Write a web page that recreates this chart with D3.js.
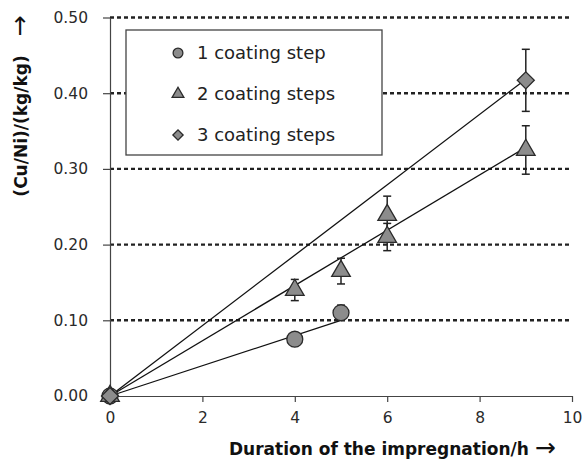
<!DOCTYPE html>
<html lang="en">
	<head>
		<meta charset="utf-8">
		<title>Cu/Ni ratio vs duration of impregnation</title>
		<style type="text/css">
			body { margin: 0; background: #fff; }
			text { font-family: "DejaVu Sans", sans-serif; fill: #222; }
			.axis path, .axis line { stroke: #444; stroke-width: 1.2; }
			.axis text { font-size: 15.5px; fill: #2a2a2a; }
			.grid { stroke: #222; stroke-width: 2.4; stroke-dasharray: 4,3; }
			.fit { stroke: #111; stroke-width: 1.3; fill: none; }
			.err { stroke: #222; stroke-width: 1.5; }
			.mark { fill: #8c8c8c; stroke: #2a2a2a; stroke-width: 1.3; }
			.label { font-weight: bold; font-size: 17px; fill: #111; }
			.arrow { font-family: "DejaVu Sans", sans-serif; font-weight: normal; font-size: 25px; }
		</style>
	</head>
	<body>

		<script src="https://d3js.org/d3.v7.min.js"></script>
		<script>

			//Data
			var seriesNames = ["1 coating step", "2 coating steps", "3 coating steps"];
			var hours1 = [0, 4, 5];
			var ratio1 = [0, 0.075, 0.110];
			var error1 = [0, 0.005, 0.010];
			var hours2 = [0, 4, 5, 6, 6, 9];
			var ratio2 = [0, 0.140, 0.165, 0.239, 0.210, 0.325];
			var error2 = [0, 0.014, 0.017, 0.025, 0.018, 0.032];
			var hours3 = [0, 9];
			var ratio3 = [0, 0.417];
			var error3 = [0, 0.041];
			//linear fits through the origin
			var fitSlopes = [0.0200, 0.0365, 0.0465];
			var fitEnds = [5, 9, 9];
			var yTicks = [0, 0.1, 0.2, 0.3, 0.4, 0.5];
			var xTicks = [0, 2, 4, 6, 8, 10];

			var margin = {top: 17.5, right: 11, bottom: 72, left: 110},
			    width = 583 - margin.left - margin.right,
			    height = 468 - margin.top - margin.bottom;

			var xScale = d3.scaleLinear().domain([0, 10]).range([0, width]);
			var yScale = d3.scaleLinear().domain([0, 0.5]).range([height, 0]);

			var svg = d3.select("body").append("svg")
			    .attr("width", width + margin.left + margin.right)
			    .attr("height", height + margin.top + margin.bottom)
			  .append("g")
			    .attr("transform", "translate(" + margin.left + "," + margin.top + ")");

			//dotted grid lines
			svg.selectAll(".grid")
			    .data(yTicks.slice(1))
			  .enter().append("line")
			    .attr("class", "grid")
			    .attr("x1", 0)
			    .attr("x2", width)
			    .attr("y1", function(d) { return yScale(d); })
			    .attr("y2", function(d) { return yScale(d); });

			//axes
			svg.append("g")
			    .attr("class", "axis")
			    .attr("transform", "translate(0," + height + ")")
			    .call(d3.axisBottom(xScale).tickValues(xTicks).tickSize(6).tickPadding(10).tickSizeOuter(0));

			svg.append("g")
			    .attr("class", "axis")
			    .call(d3.axisLeft(yScale).tickValues(yTicks).tickFormat(d3.format(".2f")).tickSize(7).tickPadding(15).tickSizeOuter(0));

			//fit lines
			svg.selectAll(".fit")
			    .data(fitSlopes)
			  .enter().append("line")
			    .attr("class", "fit")
			    .attr("x1", xScale(0))
			    .attr("y1", yScale(0))
			    .attr("x2", function(d, i) { return xScale(fitEnds[i]); })
			    .attr("y2", function(d, i) { return yScale(d * fitEnds[i]); });

			//circle, triangle, square turned 45deg (diamond)
			var symbols = [d3.symbolCircle, d3.symbolTriangle, d3.symbolSquare];
			var symbolSizes = [200, 150, 145];
			var symbolTurn = [0, 0, 45];
			var series = [
			  {x: hours1, y: ratio1, e: error1},
			  {x: hours2, y: ratio2, e: error2},
			  {x: hours3, y: ratio3, e: error3}
			];

			series.forEach(function(s, k) {
			  var pts = s.x.map(function(h, i) { return {x: h, y: s.y[i], e: s.e[i]}; });
			  var g = svg.append("g");

			  //error bars
			  var eb = g.selectAll(".eb")
			      .data(pts.filter(function(d) { return d.e > 0; }))
			    .enter().append("g");
			  eb.append("line")
			      .attr("class", "err")
			      .attr("x1", function(d) { return xScale(d.x); })
			      .attr("x2", function(d) { return xScale(d.x); })
			      .attr("y1", function(d) { return yScale(d.y - d.e); })
			      .attr("y2", function(d) { return yScale(d.y + d.e); });
			  [-1, 1].forEach(function(sign) {
			    eb.append("line")
			        .attr("class", "err")
			        .attr("x1", function(d) { return xScale(d.x) - 4; })
			        .attr("x2", function(d) { return xScale(d.x) + 4; })
			        .attr("y1", function(d) { return yScale(d.y + sign * d.e); })
			        .attr("y2", function(d) { return yScale(d.y + sign * d.e); });
			  });

			  //markers
			  g.selectAll(".mark")
			      .data(pts)
			    .enter().append("path")
			      .attr("class", "mark")
			      .attr("d", d3.symbol().type(symbols[k]).size(symbolSizes[k]))
			      .attr("transform", function(d) {
			        return "translate(" + xScale(d.x) + "," + yScale(d.y) + ") rotate(" + symbolTurn[k] + ")";
			      });
			});

			//legend
			var legend = svg.append("g")
			    .attr("transform", "translate(16,12.5)");

			legend.append("rect")
			    .attr("width", 256)
			    .attr("height", 125)
			    .attr("fill", "#fff")
			    .attr("stroke", "#444")
			    .attr("stroke-width", 1.3);

			seriesNames.forEach(function(name, i) {
			  var row = legend.append("g")
			      .attr("transform", "translate(52," + (23 + i * 41) + ")");
			  row.append("path")
			      .attr("class", "mark")
			      .attr("transform", "rotate(" + symbolTurn[i] + ")")
			      .attr("d", d3.symbol().type(symbols[i]).size([75, 60, 52][i]));
			  row.append("text")
			      .attr("x", 19)
			      .attr("dy", "0.36em")
			      .style("font-size", "18px")
			      .text(name);
			});

			//axis labels
			var xLabel = svg.append("text")
			    .attr("class", "label")
			    .attr("x", 229 - margin.left)
			    .attr("y", 455 - margin.top)
			    .text("Duration of the impregnation/h");
			xLabel.append("tspan")
			    .attr("class", "arrow")
			    .attr("dx", 6)
			    .attr("dy", 1)
			    .text("\u2192");

			svg.append("text")
			    .attr("class", "label")
			    .attr("text-anchor", "middle")
			    .attr("transform", "translate(" + (27 - margin.left) + "," + (126 - margin.top) + ") rotate(-90)")
			    .text("(Cu/Ni)/(kg/kg)");

			svg.append("text")
			    .attr("class", "label arrow")
			    .attr("text-anchor", "middle")
			    .attr("transform", "translate(" + (28 - margin.left) + "," + (26 - margin.top) + ") rotate(-90)")
			    .text("\u2192");

		</script>
	</body>
</html>
